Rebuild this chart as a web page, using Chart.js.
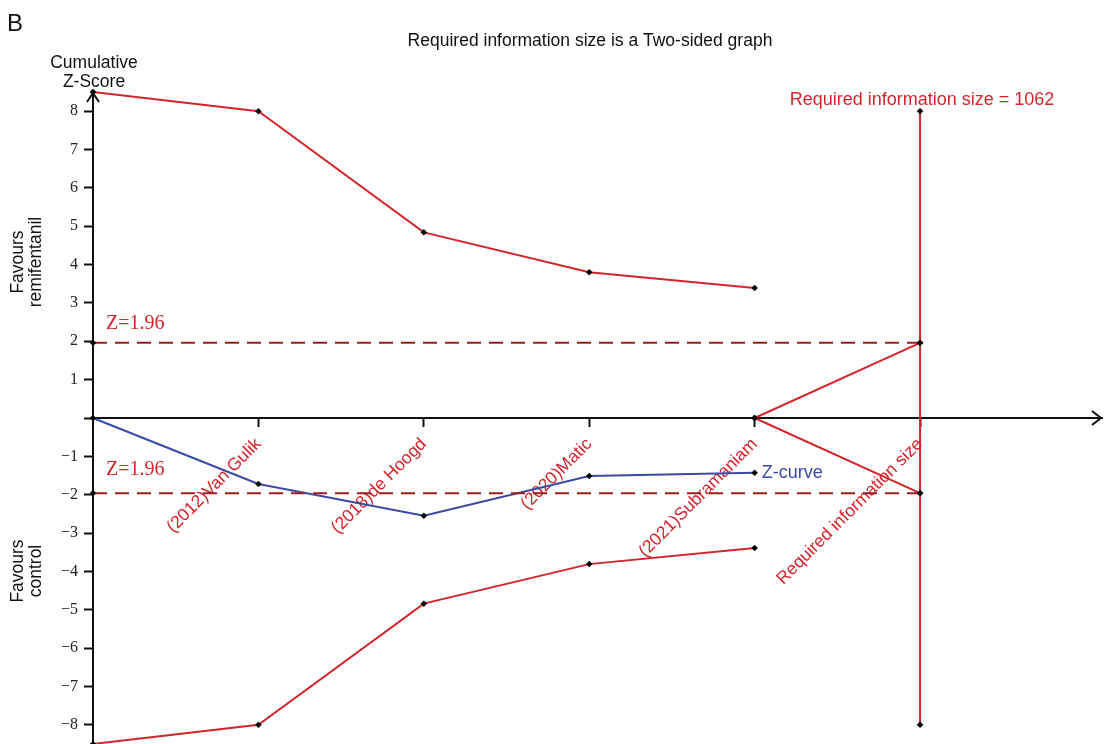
<!DOCTYPE html>
<html>
<head>
<meta charset="utf-8">
<title>Trial sequential analysis</title>
<script src="https://cdn.jsdelivr.net/npm/chart.js@4/dist/chart.umd.min.js"></script>
<style>
  html, body { margin: 0; padding: 0; background: #ffffff; }
  #wrap { position: relative; width: 1104px; height: 744px; }
</style>
</head>
<body>
<div id="wrap"><canvas id="tsa"></canvas></div>
<script>
// Cumulative trials along the information axis
const studyLabels = ["(2012)Van Gulik", "(2018)de Hoogd", "(2020)Matic", "(2021)Subramaniam"];
const risAxisLabel = "Required information size";
const infoPos = [0, 1, 2, 3, 4];

// Cumulative Z-curve and O'Brien-Fleming monitoring boundaries
const zCurve = [0, -1.72, -2.55, -1.51, -1.43];
const upperBoundary = [8.5, 8.0, 4.84, 3.80, 3.39];
const lowerBoundary = [-8.5, -8.0, -4.84, -3.81, -3.39];

// Required information size and conventional significance
const risPos = 5;
const risValue = 1062;
const risSpan = [8, -8];
const zCritical = 1.96;

// Y-axis tick values
const yTicks = [-8, -7, -6, -5, -4, -3, -2, -1, 0, 1, 2, 3, 4, 5, 6, 7, 8];
const xTickPos = [1, 2, 3, 4, 5];
const xTickLabels = studyLabels.concat([risAxisLabel]);

const RED = '#d2262d';
const BLUE = '#3b4aa2';
const DARKRED = '#9a1f24';
const SANS = '"Liberation Sans", Arial, sans-serif';
const SERIF = '"Liberation Serif", "Times New Roman", serif';

const pts = (xs, ys) => xs.map((x, i) => ({ x: x, y: ys[i] }));

const marker = {
  pointStyle: 'rectRot',
  pointRadius: 3,
  pointBackgroundColor: '#000',
  pointBorderColor: '#000',
  pointBorderWidth: 0.5,
  pointHoverRadius: 3
};

function lineSet(data, color, extra) {
  return Object.assign({
    data: data,
    borderColor: color,
    borderWidth: 2,
    showLine: true,
    fill: false,
    tension: 0,
    clip: false
  }, marker, extra || {});
}

const datasets = [
  lineSet(pts([0, risPos], [zCritical, zCritical]), DARKRED, { borderDash: [14, 8] }),
  lineSet(pts([0, risPos], [-zCritical, -zCritical]), DARKRED, { borderDash: [14, 8] }),
  lineSet(pts(infoPos, upperBoundary), RED),
  lineSet(pts(infoPos, lowerBoundary), RED),
  lineSet(pts([infoPos[infoPos.length - 1], risPos], [0, zCritical]), RED),
  lineSet(pts([infoPos[infoPos.length - 1], risPos], [0, -zCritical]), RED),
  lineSet(pts([risPos, risPos], risSpan), RED),
  lineSet(pts(infoPos, zCurve), BLUE)
];

// keep scale label overhang from shrinking the plot area
function noPadding(s) {
  s.paddingTop = 0; s.paddingBottom = 0; s.paddingLeft = 0; s.paddingRight = 0;
}

// Axis arrows and free text
const decorations = {
  id: 'decorations',
  afterDraw(chart) {
    const ctx = chart.ctx;
    const xs = chart.scales.x, ys = chart.scales.y;
    const area = chart.chartArea;
    const y0 = ys.getPixelForValue(0);
    const x0 = area.left;

    ctx.save();
    // arrow heads
    ctx.strokeStyle = '#111';
    ctx.lineWidth = 2;
    ctx.lineJoin = 'miter';
    ctx.beginPath();
    ctx.moveTo(area.right - 10, y0 - 7);
    ctx.lineTo(area.right - 1, y0);
    ctx.lineTo(area.right - 10, y0 + 7);
    ctx.stroke();
    ctx.beginPath();
    ctx.moveTo(x0 - 6, area.top + 10);
    ctx.lineTo(x0, area.top + 1);
    ctx.lineTo(x0 + 6, area.top + 10);
    ctx.stroke();

    // panel letter and title
    ctx.fillStyle = '#111';
    ctx.textBaseline = 'alphabetic';
    ctx.textAlign = 'left';
    ctx.font = '24px ' + SANS;
    ctx.fillText('B', 7, 31);
    ctx.textAlign = 'center';
    ctx.font = '17.5px ' + SANS;
    ctx.fillText('Required information size is a Two-sided graph', 590, 46);

    // y-axis caption
    ctx.fillText('Cumulative', x0 + 1, 68);
    ctx.fillText('Z-Score', x0 + 1, 87);

    // side captions
    const side = (lines, cy) => {
      ctx.save();
      ctx.translate(0, cy);
      ctx.rotate(-Math.PI / 2);
      ctx.textAlign = 'center';
      ctx.textBaseline = 'middle';
      ctx.fillText(lines[0], 0, 18);
      ctx.fillText(lines[1], 0, 36);
      ctx.restore();
    };
    side(['Favours', 'remifentanil'], 262);
    side(['Favours', 'control'], 571);

    // significance labels
    ctx.fillStyle = RED;
    ctx.font = '20px ' + SERIF;
    ctx.textAlign = 'left';
    ctx.textBaseline = 'middle';
    ctx.fillText('Z=1.96', x0 + 13, ys.getPixelForValue(zCritical) - 19);
    ctx.fillText('Z=1.96', x0 + 13, ys.getPixelForValue(-zCritical) - 23);

    // required information size label
    ctx.font = '18px ' + SANS;
    ctx.textAlign = 'center';
    ctx.fillText('Required information size = ' + risValue,
      xs.getPixelForValue(risPos) + 2, ys.getPixelForValue(risSpan[0]) - 11);

    // Z-curve label
    ctx.fillStyle = BLUE;
    ctx.textAlign = 'left';
    const last = zCurve.length - 1;
    ctx.fillText('Z-curve', xs.getPixelForValue(infoPos[last]) + 7, ys.getPixelForValue(zCurve[last]));
    ctx.restore();
  }
};

new Chart(document.getElementById('tsa'), {
  type: 'scatter',
  data: { datasets: datasets },
  plugins: [decorations],
  options: {
    responsive: true,
    maintainAspectRatio: false,
    animation: false,
    events: [],
    layout: { autoPadding: false, padding: { left: 53, top: 92, right: 2, bottom: 0 } },
    plugins: { legend: { display: false }, tooltip: { enabled: false }, title: { display: false } },
    scales: {
      x: {
        type: 'linear',
        min: 0,
        max: 6.1,
        position: { y: 0 },
        afterBuildTicks(s) { s.ticks = xTickPos.map(v => ({ value: v })); },
        afterFit: noPadding,
        grid: { drawOnChartArea: false, drawTicks: true, tickLength: 8, tickColor: '#111', tickWidth: 2 },
        border: { display: true, color: '#111', width: 2 },
        ticks: {
          autoSkip: false,
          maxRotation: 45,
          minRotation: 45,
          padding: 8,
          color: RED,
          font: { family: SANS, size: 17.5 },
          callback: (v) => {
            const i = xTickPos.indexOf(v);
            return i >= 0 ? xTickLabels[i] : '';
          }
        }
      },
      y: {
        type: 'linear',
        min: -8.5,
        max: 8.5,
        position: 'left',
        afterBuildTicks(s) { s.ticks = yTicks.map(v => ({ value: v })); },
        afterFit(s) { s.width = 40; noPadding(s); },
        grid: { drawOnChartArea: false, drawTicks: true, tickLength: 9, tickColor: '#111', tickWidth: 2 },
        border: { display: true, color: '#111', width: 2 },
        ticks: {
          padding: 6,
          color: '#222',
          font: { family: SERIF, size: 16 },
          callback: (v) => v === 0 ? '' : (v < 0 ? '\u2212' + Math.abs(v) : String(v))
        }
      }
    }
  }
});
</script>
</body>
</html>
